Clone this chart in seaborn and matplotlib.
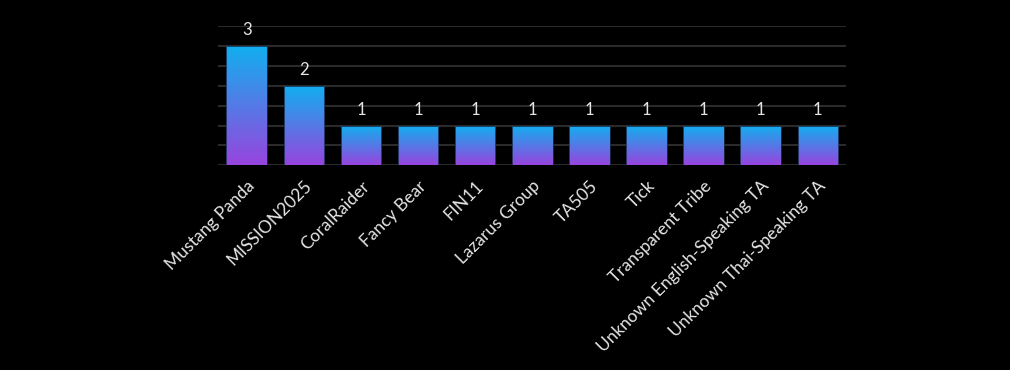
import matplotlib
matplotlib.use("Agg")
import matplotlib.pyplot as plt
import seaborn as sns
import numpy as np
import pandas as pd
from matplotlib.colors import LinearSegmentedColormap

groups = ["Mustang Panda", "MISSION2025", "CoralRaider", "Fancy Bear", "FIN11",
          "Lazarus Group", "TA505", "Tick", "Transparent Tribe",
          "Unknown English-Speaking TA", "Unknown Thai-Speaking TA"]
counts = [3, 2, 1, 1, 1, 1, 1, 1, 1, 1, 1]

df = pd.DataFrame({"group": groups, "count": counts})

sns.set_style("dark")
plt.rcParams["font.family"] = ["Lato", "DejaVu Sans"]

fig = plt.figure(figsize=(10.1, 3.7), dpi=100, facecolor="black")
ax = fig.add_axes([0.216, 0.553, 0.622, 0.377])
ax.set_facecolor("black")

sns.barplot(data=df, x="group", y="count", color="#10b0ef", width=0.71, ax=ax)

# vertical gradient inside each bar
cmap = LinearSegmentedColormap.from_list("grad", ["#9844de", "#10b0ef"])
grad = np.linspace(0, 1, 256).reshape(-1, 1)
for p in ax.patches:
    x0, y0 = p.get_x(), p.get_y()
    w, h = p.get_width(), p.get_height()
    im = ax.imshow(grad, cmap=cmap, origin="lower", aspect="auto",
                   extent=[x0, x0 + w, y0, y0 + h], zorder=3)
    im.set_clip_path(p)
    p.set_facecolor("none")
    p.set_edgecolor("#1a3050")
    p.set_linewidth(0.6)
    p.set_zorder(4)
    ax.text(x0 + w / 2, h + 0.4, f"{int(h)}", ha="center", va="center",
            color="#e6e6e6", fontsize=12)

ax.set_xlim(-0.5, len(groups) - 0.5)
ax.set_ylim(0, 3.5)
ax.set_yticks(np.arange(0, 3.51, 0.5))
ax.set_yticklabels([])
ax.tick_params(axis="y", length=0)
ax.tick_params(axis="x", length=0, pad=9)
ax.grid(axis="y", color="#2a2a2a", linewidth=1.5)
ax.grid(axis="x", visible=False)
ax.set_axisbelow(True)
for s in ax.spines.values():
    s.set_visible(False)

ax.set_xlabel("")
ax.set_ylabel("")
ax.set_xticks(range(len(groups)))
ax.set_xticklabels(groups, rotation=45, ha="right", rotation_mode="anchor",
                   color="#e6e6e6", fontsize=12.5)

fig.savefig("out.png", dpi=100, facecolor="black")
